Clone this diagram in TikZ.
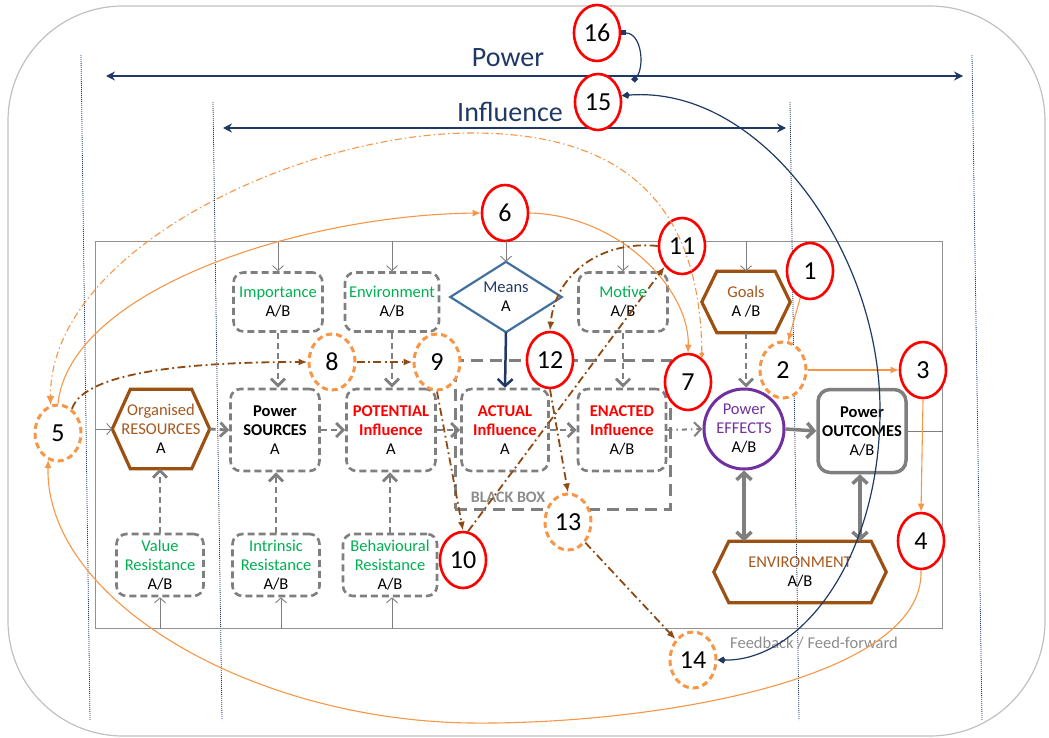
\documentclass[tikz,border=0pt]{standalone}
\usepackage{fontspec}
\setmainfont{Carlito}
\usetikzlibrary{arrows.meta,shapes.geometric,calc}

\definecolor{gry}{HTML}{7F7F7F}
\definecolor{grn}{HTML}{00B050}
\definecolor{brn}{HTML}{9C5012}
\definecolor{brnT}{HTML}{A5581E}
\definecolor{navy}{HTML}{1F3864}
\definecolor{steel}{HTML}{41719C}
\definecolor{org}{HTML}{F79646}
\definecolor{ddash}{HTML}{8C4A14}
\definecolor{purp}{HTML}{7030A0}
\definecolor{frm}{HTML}{C0C0C0}

\begin{document}
\begin{tikzpicture}[x=1pt,y=-1pt,
  txt/.style={font=\fontsize{16.5}{19}\selectfont, align=center, inner sep=1pt},
  gbox/.style={txt, draw=gry, line width=2.6pt, dash pattern=on 7pt off 4pt, rounded corners=10pt},
  hexline/.style={draw=brn, line width=3.2pt, line join=miter},
  rnum/.style={ellipse, draw=red, line width=2.6pt, fill=white, minimum width=46, minimum height=56, inner sep=0pt, font=\fontsize{26}{26}\selectfont},
  onum/.style={rnum, draw=org, line width=3pt, dash pattern=on 6pt off 4pt},
  guide/.style={draw=navy, line width=0.8pt, dash pattern=on 1pt off 1pt},
  span/.style={draw=navy, line width=1.5pt, {Stealth[length=9pt,width=9pt]}-{Stealth[length=9pt,width=9pt]}},
  feed/.style={draw=gry, line width=0.9pt, -{Straight Barb[length=5pt,width=11pt]}},
  gdash/.style={draw=gry, line width=2.8pt, dash pattern=on 6pt off 4pt, -{Straight Barb[length=7pt,width=14pt]}},
  gsolid/.style={draw=gry, line width=3.5pt, -{Straight Barb[length=7pt,width=15pt]}},
  gboth/.style={draw=gry, line width=3.5pt, {Straight Barb[length=7pt,width=15pt]}-{Straight Barb[length=7pt,width=15pt]}},
  oarr/.style={draw=org, line width=1.1pt, -{Latex[length=8pt,width=7pt]}},
  odd/.style={draw=org, line width=1.1pt, dash pattern=on 7pt off 3pt on 1.5pt off 3pt, {Kite[length=6pt,width=5pt]}-{Latex[length=9pt,width=8pt]}},
  bdd/.style={draw=ddash, line width=1.8pt, dash pattern=on 8pt off 3.5pt on 1.8pt off 3.5pt, -{Latex[length=9pt,width=7pt]}},
  nlink/.style={draw=navy, line width=1.2pt}
]
\useasboundingbox (0,0) rectangle (1049,738);

% outer rounded frame
\draw[frm, line width=1.2pt, rounded corners=115pt] (8,6) rectangle (1045,736);

% dotted guide lines
\coordinate (d1t) at (81,55);  \coordinate (d1b) at (90,720);
\coordinate (d2t) at (213,102); \coordinate (d2b) at (222,720);
\coordinate (d3t) at (790,102); \coordinate (d3b) at (799,720);
\coordinate (d4t) at (972,55);  \coordinate (d4b) at (982,720);
\draw[guide] (d1t) -- (d1b);
\draw[guide] (d2t) -- (d2b);
\draw[guide] (d3t) -- (d3b);
\draw[guide] (d4t) -- (d4b);

% span arrows
\coordinate (pl) at (106,76); \coordinate (pr) at (963,76);
\coordinate (il) at (223,128); \coordinate (ir) at (786,128);
\draw[span] (pl) -- (pr);
\draw[span] (il) -- (ir);
\node[font=\fontsize{28}{28}\selectfont, text=navy, anchor=base] (powerlbl) at (508,67) {Power};
\node[font=\fontsize{28}{28}\selectfont, text=navy, anchor=base] (inflbl) at (510,122) {Influence};

% system frame
\node[draw=gry!85, line width=1pt, minimum width=847, minimum height=387, inner sep=0pt] (frame) at (518.5,434.5) {};

% black box
\node[draw=gry, line width=3pt, dash pattern=on 12pt off 7pt, minimum width=215, minimum height=149, inner sep=0pt] (bb) at (562.5,434.5) {};
\node[font=\fontsize{16}{19}\selectfont\bfseries, text=gry!90] (bblbl) at (508,497) {BLACK BOX};

% dashed boxes
\node[gbox, minimum width=89, minimum height=59] (imp) at (278,302) {\textcolor{grn}{Importance}\\A/B};
\node[gbox, minimum width=94, minimum height=59] (envt) at (392,302) {\textcolor{grn}{Environment}\\A/B};
\node[gbox, minimum width=89, minimum height=59] (motive) at (623,302) {\textcolor{grn}{Motive}\\A/B};
\node[gbox, minimum width=89, minimum height=82] (src) at (275,430) {\textbf{Power}\\\textbf{SOURCES}\\A};
\node[gbox, minimum width=89, minimum height=82] (pot) at (391,430) {\textcolor{red}{\textbf{POTENTIAL}}\\\textcolor{red}{\textbf{Influence}}\\A};
\node[gbox, minimum width=87, minimum height=82] (act) at (505,430) {\textcolor{red}{\textbf{ACTUAL}}\\\textcolor{red}{\textbf{Influence}}\\A};
\node[gbox, minimum width=88, minimum height=82] (ena) at (622,430) {\textcolor{red}{\textbf{ENACTED}}\\\textcolor{red}{\textbf{Influence}}\\A/B};
\node[gbox, minimum width=87, minimum height=62] (valr) at (160,565) {\textcolor{grn}{Value}\\\textcolor{grn}{Resistance}\\A/B};
\node[gbox, minimum width=87, minimum height=62] (intr) at (276,565) {\textcolor{grn}{Intrinsic}\\\textcolor{grn}{Resistance}\\A/B};
\node[gbox, minimum width=94, minimum height=62] (behr) at (390,565) {\textcolor{grn}{Behavioural}\\\textcolor{grn}{Resistance}\\A/B};

% hexagons
\node[txt, minimum width=97, minimum height=79, inner sep=0pt] (res) at (161,429) {\textcolor{brnT}{Organised}\\\textcolor{brnT}{RESOURCES}\\A};
\draw[hexline] (res.west) -- ([xshift=18pt]res.north west) -- ([xshift=-18pt]res.north east) -- (res.east) -- ([xshift=-18pt]res.south east) -- ([xshift=18pt]res.south west) -- cycle;
\node[txt, minimum width=88, minimum height=61, inner sep=0pt] (goals) at (746,302) {\textcolor{brnT}{Goals}\\A /B};
\draw[hexline] (goals.west) -- ([xshift=15pt]goals.north west) -- ([xshift=-15pt]goals.north east) -- (goals.east) -- ([xshift=-15pt]goals.south east) -- ([xshift=15pt]goals.south west) -- cycle;
\node[txt, minimum width=172, minimum height=61, inner sep=0pt] (env) at (800,572) {\textcolor{brnT}{ENVIRONMENT}\\A/B};
\draw[hexline] (env.west) -- ([xshift=15pt]env.north west) -- ([xshift=-15pt]env.north east) -- (env.east) -- ([xshift=-15pt]env.south east) -- ([xshift=15pt]env.south west) -- cycle;

% means diamond
\node[txt, minimum width=111, minimum height=70, inner sep=0pt] (means) at (506,297) {\textcolor{navy}{Means}\\A};
\draw[steel, line width=2.2pt] (means.west) -- (means.north) -- (means.east) -- (means.south) -- cycle;

% effects and outcomes
\node[txt, circle, draw=purp, line width=3pt, minimum size=80, inner sep=0pt] (eff) at (744,429) {\textcolor{purp}{Power}\\\textcolor{purp}{EFFECTS}\\A/B};
\node[txt, draw=gry, line width=3.5pt, rounded corners=12pt, minimum width=88, minimum height=83] (out) at (862,431) {\textbf{Power}\\\textbf{OUTCOMES}\\A/B};

% numbered markers
\node[rnum] (n16) at (597,33) {16};
\node[rnum] (n15) at (598,102) {15};
\node[rnum] (n6) at (505,213) {6};
\node[rnum] (n11) at (682,246) {11};
\node[rnum] (n1) at (810,271) {1};
\node[rnum] (n12) at (550,360) {12};
\node[rnum] (n7) at (688,382) {7};
\node[rnum] (n3) at (923,370) {3};
\node[rnum] (n4) at (921,541) {4};
\node[rnum] (n10) at (463,560) {10};
\node[onum] (n2) at (783,370) {2};
\node[onum] (n5) at (58,433) {5};
\node[onum] (n8) at (332,362) {8};
\node[onum] (n9) at (437,362) {9};
\node[onum] (n13) at (568,522) {13};
\node[onum] (n14) at (693,660) {14};

\node[font=\fontsize{16.5}{19}\selectfont, text=gry!90] (fblbl) at (814,643) {Feedback / Feed-forward};

% inputs crossing the frame
\draw[feed] (frame.north -| imp.north) -- (imp.north);
\draw[feed] (frame.north -| envt.north) -- (envt.north);
\draw[feed] (frame.north -| means.north) -- (means.north);
\draw[feed] (frame.north -| motive.north) -- (motive.north);
\draw[feed] (frame.north -| goals.north) -- (goals.north);
\draw[feed] (frame.south -| valr.south) -- (valr.south);
\draw[feed] ([xshift=5pt]frame.south -| intr.south) -- ([xshift=5pt]intr.south);
\draw[feed] ([xshift=2pt]frame.south -| behr.south) -- ([xshift=2pt]behr.south);
\draw[feed] (frame.west |- res.west) -- (res.west);
\draw[gry, line width=0.9pt] (out.east) -- (out.east -| frame.east);

% dashed flows between boxes
\draw[gdash] (imp.south) -- (imp.south |- src.north);
\draw[gdash] (envt.south) -- (envt.south |- pot.north);
\draw[gdash] (motive.south) -- (motive.south |- ena.north);
\draw[gdash] (goals.south) -- (goals.south |- eff.north);
\draw[gdash] (valr.north) -- (valr.north |- res.south);
\draw[gdash] (intr.north) -- (intr.north |- src.south);
\draw[gdash] (behr.north) -- (behr.north |- pot.south);
\draw[gdash] (res.east) -- (src.west);
\draw[gdash] (src.east) -- (pot.west);
\draw[gdash] (pot.east) -- (act.west);
\draw[gdash] (act.east) -- (ena.west);
\draw[gdash, dash pattern=on 5pt off 4pt on 1.5pt off 4pt, line width=2pt] (ena.east) -- (eff.west);
\draw[navy, line width=2.5pt, -{Straight Barb[length=7pt,width=15pt]}] (means.south) -- (act.north);
\draw[gsolid] (eff.east) -- (out.west);
\draw[gboth] (eff.south) -- (eff.south |- env.north);
\draw[gboth] ([xshift=-2pt]out.south) -- ([xshift=-2pt]out.south |- env.north);

% orange flows
\draw[oarr] (n1.250) -- (n2.80);
\draw[oarr] (n2.east) -- (n3.west);
\draw[oarr] (n3.south) -- (n4.north);
\draw[oarr] (n4.south) .. controls (925,680) and (650,725) .. (470,723) .. controls (250,720) and (45,600) .. (n5.250);
\draw[oarr] (n5.north) .. controls (70,290) and (300,215) .. (n6.west);
\draw[oarr] (n6.east) .. controls (620,215) and (690,290) .. (n7.north);

% brown dash-dot flows
\draw[bdd] (n5.60) .. controls (85,370) and (200,362) .. (n8.west);
\draw[bdd] (n8.east) -- (n9.west);
\draw[bdd] (n9.south) -- (n10.north);
\draw[bdd] (n10.80) -- (n11.230);
\draw[bdd] (n11.west) .. controls (600,240) and (555,275) .. (n12.north);
\draw[bdd] (n12.south) -- (n13.north);
\draw[bdd] (n13.310) -- (n14.130);

% long feedback arcs
\draw[odd] (n7.60) .. controls (700,200) and (620,133) .. (472,133) .. controls (300,133) and (50,250) .. (n5.105);
\coordinate (c15) at (633,81);
\draw[nlink, {Square[length=5pt,width=5pt]}-{Square[length=5pt,width=5pt]}] (n16.east) .. controls (642,33) and (645,68) .. (c15);
\draw[nlink, {Kite[length=8pt,width=7pt]}-{Kite[length=8pt,width=7pt]}] (n15.15) .. controls (760,85) and (880,250) .. (880,410) .. controls (880,560) and (800,661) .. (n14.east);
\end{tikzpicture}
\end{document}
